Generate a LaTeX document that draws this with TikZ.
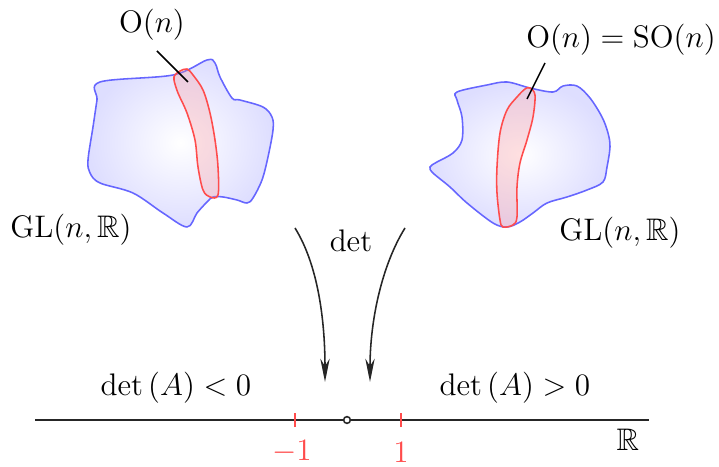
\documentclass[tikz,border=0pt]{standalone}
\usepackage{amssymb}
\usetikzlibrary{arrows.meta}
\tikzset{
  blob/.style={draw=blue!60, semithick, inner color=white, outer color=blue!13},
  redset/.style={draw=red!70, semithick, fill=red!40, fill opacity=0.3, draw opacity=1},
  leader/.style={draw=black, semithick},
  maparrow/.style={draw=black!85, semithick, -{Stealth[length=9pt,width=3.6pt]}},
  axis/.style={draw=black!85, thick},
  tick/.style={draw=red!70, semithick},
  lbl/.style={inner sep=1pt, font=\large},
  redlbl/.style={text=red!70, inner sep=1pt, font=\large}
}
\begin{document}
\begin{tikzpicture}[x=0.385pt,y=-0.385pt]
\useasboundingbox (0,0) rectangle (719,467);
% left blob
\path[blob] plot[smooth cycle, tension=0.55] coordinates {
 (100,82) (173,75) (207,60) (215,63) (220,77) (232,98) (240,100) (263,107)
 (272,117) (273,130) (268,157) (262,180) (253,198) (247,203) (237,200)
 (223,197) (213,197) (207,202) (197,213) (187,227) (163,213) (133,193)
 (100,183) (90,173) (88,160) (93,127) (97,100)};
\path[redset] plot[smooth cycle, tension=0.55] coordinates {
 (175,75) (180,71) (187,69) (193,75) (203,90) (210,113) (215,140) (218,167)
 (218,195) (210,197) (203,190) (198,167) (195,140) (187,113) (178,93) (174,80)};
% right blob
\path[blob] plot[smooth cycle, tension=0.55] coordinates {
 (457,92) (487,85) (507,82) (530,88) (553,92) (563,86) (577,86) (590,98)
 (602,117) (608,133) (610,147) (607,167) (603,182) (587,190) (567,197)
 (547,203) (533,213) (520,222) (507,227) (493,223) (467,203) (450,187)
 (433,173) (430,167) (437,162) (453,153) (462,140) (462,117) (457,100)};
\path[redset] plot[smooth cycle, tension=0.55] coordinates {
 (530,88) (535,95) (533,117) (527,140) (520,163) (517,187) (517,217)
 (513,225) (503,227) (500,220) (497,193) (497,167) (500,133) (507,110)
 (517,97) (525,89)};
% labels
\node[lbl] (On) at (152,25) {$\mathrm{O}(n)$};
\node[lbl] (OnSO) at (621,40) {$\mathrm{O}(n)=\mathrm{SO}(n)$};
\node[lbl] (GLl) at (71,230) {$\mathrm{GL}(n,\mathbb{R})$};
\node[lbl] (GLr) at (620,233) {$\mathrm{GL}(n,\mathbb{R})$};
\coordinate (OnA) at (157,51);
\coordinate (OnB) at (188,82);
\coordinate (SOA) at (545,63);
\coordinate (SOB) at (527,99);
\draw[leader] (OnA) -- (OnB);
\draw[leader] (SOA) -- (SOB);
% det arrows
\node[lbl] (det) at (351,241) {$\det$};
\coordinate (la0) at (295,228);
\coordinate (la1) at (325,382);
\coordinate (ra0) at (405,228);
\coordinate (ra1) at (370,382);
\draw[maparrow] (la0) .. controls (318,265) and (325,320) .. (la1);
\draw[maparrow] (ra0) .. controls (382,265) and (370,320) .. (ra1);
% axis
\coordinate (axL) at (35,420);
\coordinate (axR) at (649,420);
\draw[axis] (axL) -- (axR);
\coordinate (tm) at (295,420);
\coordinate (tp) at (401,420);
\draw[tick] ([yshift=-2.7pt]tm) -- ([yshift=2.7pt]tm);
\draw[tick] ([yshift=-2.7pt]tp) -- ([yshift=2.7pt]tp);
\node[draw=black!85, semithick, fill=white, circle, inner sep=0pt, minimum size=2.6pt] (zero) at (347,420) {};
\node[redlbl] (m1) at (292,452) {$-1$};
\node[redlbl] (p1) at (401,452) {$1$};
\node[lbl] (R) at (628,440) {$\mathbb{R}$};
\node[lbl] (neg) at (176,388) {$\det\left(A\right)<0$};
\node[lbl] (pos) at (515,388) {$\det\left(A\right)>0$};
\end{tikzpicture}
\end{document}
